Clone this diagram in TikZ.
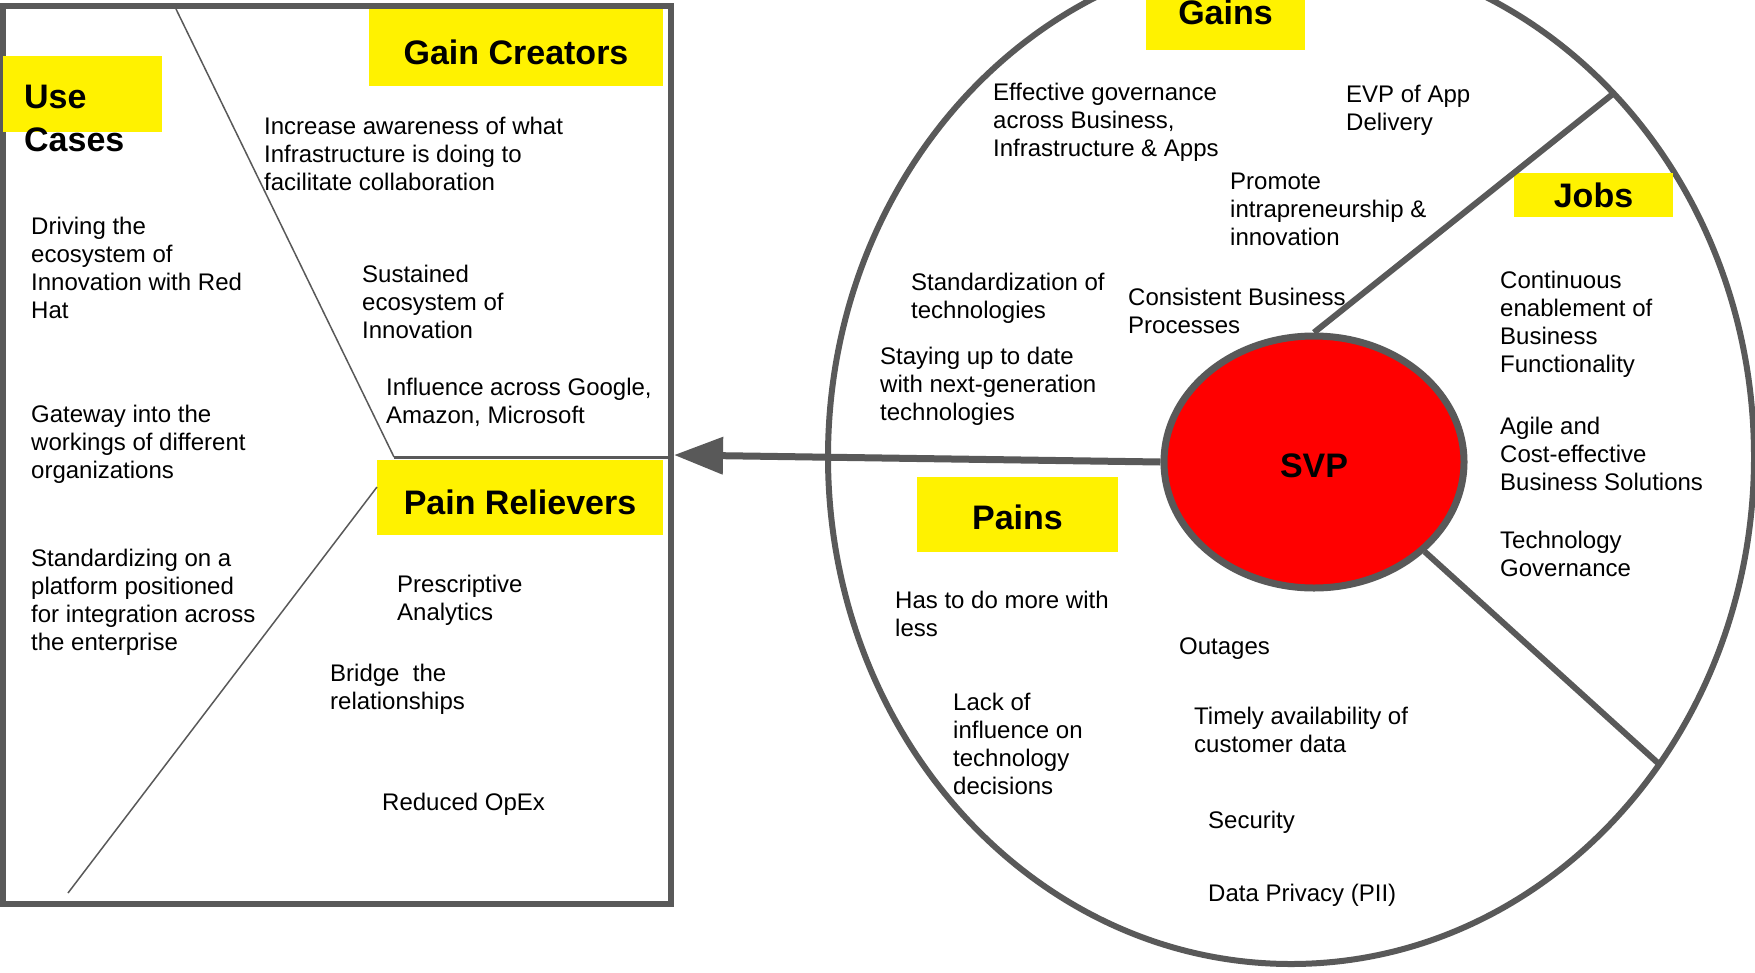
\documentclass[tikz,border=0pt]{standalone}
\usepackage{fontspec}
\setmainfont{Liberation Sans}
\usetikzlibrary{shapes.geometric,arrows.meta}
\definecolor{rim}{HTML}{595959}

\begin{document}
\begin{tikzpicture} [
        x = 1pt, y = -1pt,
        txt/.style = { anchor = north west, inner sep = 0, align = left, font = \fontsize{24}{28}\selectfont },
        tag/.style = { fill = yellow, inner sep = 0, font = \bfseries\fontsize{34}{42}\selectfont },
        wall/.style = { draw = rim, line width = 6pt },
        spoke/.style = { draw = rim, line width = 6pt },
        seam/.style = { draw = rim, line width = 1.5pt }
        ]
        \clip (0,0) rectangle (1755,972);
        \fill [white] (0,0) rectangle (1755,972);

        \node [wall, minimum width = 668pt, minimum height = 898pt, inner sep = 0] (canvas) at (337,455) {};

        \node [tag, minimum width = 159pt, minimum height = 76pt] (usebox) at (82.5,94) {};
        \node [tag, minimum width = 294pt, minimum height = 77pt, text height = 33pt, text depth = 0pt] (gaincr) at (516,47.5) {Gain Creators};
        \node [tag, minimum width = 286pt, minimum height = 75pt, text height = 33pt, text depth = 0pt] (painrel) at (520,497.5) {Pain Relievers};

        \coordinate (gctop) at (176,9);
        \coordinate (split) at (394,457);
        \coordinate (splitend) at (668,457);
        \coordinate (prtop) at (377,487);
        \coordinate (prfoot) at (68,893);
        \draw [seam] (gctop) -- (split);
        \draw [seam, line width = 3pt] (split) -- (splitend);
        \draw [seam] (prtop) -- (prfoot);

        \draw [wall] (1291,457) ellipse [x radius = 463, y radius = 507];
        \node [tag, minimum width = 159pt, minimum height = 76pt] (gains) at (1225.5,12) {Gains};
        \node [tag, minimum width = 159pt, minimum height = 44pt] (jobs) at (1593.5,195) {Jobs};
        \node [tag, minimum width = 201pt, minimum height = 75pt, text height = 29pt, text depth = 0pt] (pains) at (1017.5,514.5) {Pains};

        \node [ellipse, draw = rim, line width = 7pt, fill = red, minimum width = 300pt, minimum height = 252pt,
            inner sep = 0, text height = 30pt, text depth = 0pt, font = \bfseries\fontsize{34}{42}\selectfont] (svp) at (1314,462) {SVP};

        \coordinate (jobsrim) at (1614,93);
        \coordinate (painsrim) at (1659,764);
        \coordinate (tip) at (674,455);
        \draw [spoke] (svp.north) -- (jobsrim);
        \draw [spoke] (svp.-39) -- (painsrim);
        \draw [rim, line width = 7pt, -{Triangle[length = 49pt, width = 36pt]}] (svp.west) -- (tip);

        \node [txt, font = \bfseries\fontsize{34}{43}\selectfont] (usecases) at (24,85) {Use\\Cases};
        \node [txt] (ucdrive) at (31,217) {Driving the\\ecosystem of\\Innovation with Red\\Hat};
        \node [txt] (ucgate) at (31,405) {Gateway into the\\workings of different\\organizations};
        \node [txt] (ucstd) at (31,549) {Standardizing on a\\platform positioned\\for integration across\\the enterprise};
        \node [txt] (gcaware) at (264,117) {Increase awareness of what\\Infrastructure is doing to\\facilitate collaboration};
        \node [txt] (gcsustain) at (362,265) {Sustained\\ecosystem of\\Innovation};
        \node [txt] (gcinfl) at (386,378) {Influence across Google,\\Amazon, Microsoft};
        \node [txt] (prpresc) at (397,575) {Prescriptive\\Analytics};
        \node [txt] (prbridge) at (330,664) {Bridge\ \ the\\relationships};
        \node [txt] (propex) at (382,793) {Reduced OpEx};

        \node [txt] (gneff) at (993,83) {Effective governance\\across Business,\\Infrastructure \& Apps};
        \node [txt] (gnevp) at (1346,85) {EVP of App\\Delivery};
        \node [txt] (gnprom) at (1230,173) {Promote\\intrapreneurship \&\\innovation};
        \node [txt] (gnstd) at (911,273) {Standardization of\\technologies};
        \node [txt] (gncons) at (1128,288) {Consistent Business\\Processes};
        \node [txt] (gnstay) at (880,347) {Staying up to date\\with next-generation\\technologies};
        \node [txt] (jbcont) at (1500,271) {Continuous\\enablement of\\Business\\Functionality};
        \node [txt] (jbagile) at (1500,417) {Agile and\\Cost-effective\\Business Solutions};
        \node [txt] (jbtech) at (1500,531) {Technology\\Governance};
        \node [txt] (pnless) at (895,591) {Has to do more with\\less};
        \node [txt] (pnout) at (1179,638) {Outages};
        \node [txt] (pnlack) at (953,693) {Lack of\\influence on\\technology\\decisions};
        \node [txt] (pntimely) at (1194,707) {Timely availability of\\customer data};
        \node [txt] (pnsec) at (1208,811) {Security};
        \node [txt] (pnpriv) at (1208,884) {Data Privacy (PII)};
    \end{tikzpicture}
\end{document}
